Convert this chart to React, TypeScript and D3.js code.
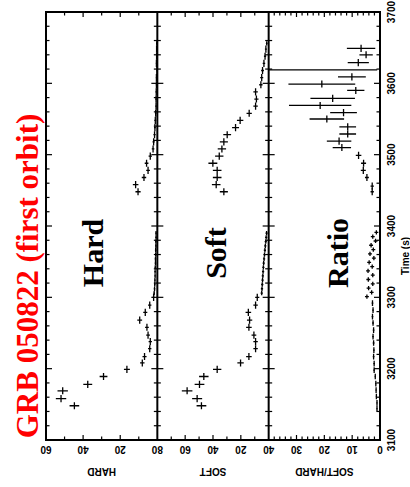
import React, { useRef, useEffect } from 'react'
import * as d3 from 'd3'

// each point: [time (s), half bin width (s), value, error]
const hardPoints = [
  [3148, 5, 44.7, 2.6], [3158, 5, 51.9, 2.8], [3169, 5, 51.0, 2.8], [3178, 5, 37.5, 2.4],
  [3189, 5, 29.0, 2.1], [3199, 5, 16.4, 1.6], [3208, 5, 8.1, 1.2], [3217, 5, 6.9, 1.1],
  [3228, 5, 4.1, 0.9], [3238, 5, 3.8, 0.9], [3247, 5, 5.0, 1.0], [3258, 5, 5.6, 1.0],
  [3268, 5, 9.5, 1.3], [3279, 5, 6.5, 1.1], [3289, 5, 4.1, 0.9], [3300, 5, 2.0, 0.6],
  [3306, 3, 1.7, 0.4], [3312, 3, 1.5, 0.4], [3318, 3, 1.4, 0.4], [3324, 3, 1.3, 0.4],
  [3330, 3, 1.2, 0.4], [3336, 3, 1.2, 0.4], [3342, 3, 1.1, 0.4], [3348, 3, 1.0, 0.4],
  [3354, 3, 1.0, 0.4], [3360, 3, 0.9, 0.4], [3366, 3, 0.9, 0.4], [3372, 3, 0.8, 0.4],
  [3378, 3, 0.8, 0.4], [3384, 3, 0.7, 0.4], [3390, 3, 0.7, 0.4],
  [3448, 5, 10.4, 1.4], [3458, 5, 11.7, 1.5], [3468, 5, 7.2, 1.2], [3478, 5, 5.0, 1.0],
  [3488, 5, 5.8, 1.0], [3498, 5, 3.8, 0.9], [3508, 5, 2.3, 0.7], [3518, 5, 2.0, 0.6],
  [3528, 5, 1.5, 0.6], [3538, 5, 1.3, 0.5], [3548, 5, 1.1, 0.5], [3558, 5, 0.9, 0.4],
  [3568, 5, 0.7, 0.4], [3578, 5, 0.7, 0.4], [3588, 5, 0.6, 0.4], [3598, 5, 0.5, 0.3],
  [3608, 5, 0.5, 0.3], [3618, 5, 0.2, 0.3], [3628, 5, 0.5, 0.3], [3638, 5, 0.4, 0.3],
  [3648, 5, 0.4, 0.3], [3656, 3, 0.3, 0.3],
]

const softPoints = [
  [3148, 5, 48.3, 3.5], [3158, 5, 51.4, 3.6], [3169, 5, 58.6, 3.8], [3178, 5, 49.7, 3.5],
  [3189, 5, 46.6, 3.4], [3199, 5, 37.0, 3.0], [3208, 5, 20.2, 2.3], [3217, 5, 14.2, 2.0],
  [3228, 5, 9.4, 1.6], [3238, 5, 9.4, 1.6], [3247, 5, 10.6, 1.7], [3258, 5, 14.2, 2.0],
  [3268, 5, 13.7, 1.9], [3279, 5, 14.6, 2.0], [3289, 5, 9.4, 1.6], [3300, 5, 8.2, 1.5],
  [3306, 3, 5.0, 0.8], [3312, 3, 4.8, 0.8], [3318, 3, 4.6, 0.8], [3324, 3, 4.4, 0.8],
  [3330, 3, 4.2, 0.8], [3336, 3, 4.0, 0.8], [3342, 3, 3.8, 0.8], [3348, 3, 3.6, 0.8],
  [3354, 3, 3.3, 0.8], [3360, 3, 3.0, 0.8], [3366, 3, 2.7, 0.8], [3372, 3, 2.4, 0.8],
  [3378, 3, 2.1, 0.8], [3384, 3, 1.8, 0.8], [3390, 3, 1.5, 0.8],
  [3448, 5, 32.2, 2.9], [3458, 5, 37.7, 3.1], [3468, 5, 37.0, 3.1], [3478, 5, 37.0, 3.1],
  [3488, 5, 40.1, 3.2], [3498, 5, 35.5, 3.0], [3508, 5, 33.6, 3.0], [3518, 5, 32.2, 2.9],
  [3528, 5, 29.8, 2.8], [3538, 5, 23.8, 2.5], [3548, 5, 20.5, 2.3], [3558, 5, 14.0, 1.9],
  [3568, 5, 9.4, 1.6], [3578, 5, 8.8, 1.5], [3588, 5, 9.4, 1.6], [3598, 5, 5.6, 1.2],
  [3608, 5, 5.0, 1.1], [3618, 5, 4.4, 1.0], [3628, 5, 3.4, 0.9], [3638, 5, 2.6, 0.8],
  [3648, 5, 2.0, 0.7], [3656, 3, 1.4, 0.6],
]

const ratioPoints = [
  [3144, 4, 1.08, 0.2], [3152, 4, 1.08, 0.2], [3161, 4, 1.3, 0.2], [3170, 4, 1.4, 0.2],
  [3179, 4, 1.5, 0.2], [3189, 4, 1.7, 0.2], [3198, 4, 2.1, 0.3], [3207, 4, 2.1, 0.3],
  [3217, 4, 2.3, 0.3], [3226, 4, 2.2, 0.3], [3236, 4, 2.3, 0.3], [3245, 4, 2.5, 0.3],
  [3254, 4, 2.3, 0.3], [3264, 4, 2.5, 0.3], [3273, 4, 2.7, 0.3], [3282, 4, 2.5, 0.3],
  [3292, 4, 2.7, 0.3],
  [3301, 3, 4.7, 0.7], [3307, 3, 3.0, 0.7], [3313, 3, 4.1, 0.7], [3319, 3, 2.6, 0.7],
  [3325, 3, 4.2, 0.7], [3331, 3, 2.6, 0.7], [3337, 3, 4.3, 0.7], [3343, 3, 2.8, 0.7],
  [3349, 3, 3.9, 0.7], [3355, 3, 2.2, 0.7], [3361, 3, 3.6, 0.7], [3367, 3, 2.4, 0.7],
  [3373, 3, 3.2, 0.7], [3379, 3, 1.6, 0.7], [3385, 3, 2.6, 0.7], [3391, 3, 1.3, 0.7],
  [3448, 5, 2.8, 0.6], [3456, 5, 2.8, 0.6], [3468, 5, 4.7, 0.7], [3478, 5, 6.0, 0.9],
  [3488, 5, 5.9, 0.9], [3499, 5, 7.7, 1.0], [3510, 5, 13.7, 3.3], [3519, 5, 14.7, 4.4],
  [3529, 5, 11.6, 3.0], [3539, 5, 11.6, 3.0], [3550, 5, 19.1, 6.2], [3559, 5, 13.1, 4.8],
  [3569, 5, 21.5, 11.2], [3579, 5, 17.0, 8.0], [3590, 5, 8.7, 3.1], [3599, 5, 20.9, 12.0],
  [3609, 5, 10.1, 5.0], [3619, 5, 45.0, 44.0], [3629, 5, 7.8, 3.8], [3640, 5, 5.0, 2.4],
  [3649, 5, 6.8, 5.1],
]

const timeLabels = [3100, 3200, 3300, 3400, 3500, 3600, 3700]
const hardLabels = [20, 40, 60]
const softLabels = [20, 40, 60, 80]
const ratioLabels = [0, 10, 20, 30, 40]
const panelNames = ['Hard', 'Soft', 'Ratio']
const axisNames = ['HARD', 'SOFT', 'SOFT/HARD']

export default function App() {
  const chart = useRef(null)

  useEffect(() => {
    const svg = d3.select(chart.current)
    svg.selectAll('*').remove()

    const left = 46, right = 380, top = 12, bottom = 440
    const pw = (right - left) / 3
    const y = d3.scaleLinear().domain([3100, 3700]).range([bottom, top])
    const sans = 'Liberation Sans, Arial, sans-serif'
    const serif = 'Liberation Serif, Times New Roman, serif'

    const panels = [
      { data: hardPoints, max: 60, step: 10, labels: hardLabels, tx: 103 },
      { data: softPoints, max: 80, step: 10, labels: softLabels, tx: 226 },
      { data: ratioPoints, max: 40, step: 2, labels: ratioLabels, tx: 348 },
    ]

    svg.append('rect').attr('width', 410).attr('height', 487).attr('fill', '#fff')

    const minorT = d3.range(3100, 3701, 20)

    panels.forEach((p, i) => {
      const x0 = left + i * pw, x1 = x0 + pw
      const x = d3.scaleLinear().domain([0, p.max]).range([x1, x0])

      svg.append('clipPath').attr('id', 'clip' + i)
        .append('rect').attr('x', x0).attr('y', top).attr('width', pw).attr('height', bottom - top)

      const g = svg.append('g').attr('clip-path', `url(#clip${i})`)
        .attr('stroke', '#000').attr('stroke-width', 1.3)

      g.selectAll('line.v').data(p.data).join('line')
        .attr('x1', d => x(d[2])).attr('x2', d => x(d[2]))
        .attr('y1', d => y(d[0] - d[1])).attr('y2', d => y(d[0] + d[1]))
      g.selectAll('line.h').data(p.data).join('line').attr('class', 'h')
        .attr('x1', d => x(d[2] - d[3])).attr('x2', d => x(d[2] + d[3]))
        .attr('y1', d => y(d[0])).attr('y2', d => y(d[0]))

      // time ticks on both sides of the panel
      const ticks = svg.append('g').attr('stroke', '#000').attr('stroke-width', 1.2)
      minorT.forEach(t => {
        const len = t % 100 === 0 ? 6 : 3.5
        ticks.append('line').attr('x1', x0).attr('x2', x0 + len).attr('y1', y(t)).attr('y2', y(t))
        ticks.append('line').attr('x1', x1 - len).attr('x2', x1).attr('y1', y(t)).attr('y2', y(t))
      })

      // value ticks top and bottom
      d3.range(p.step, p.max, p.step).forEach(v => {
        const len = p.labels.includes(v) ? 5 : 3.5
        ticks.append('line').attr('x1', x(v)).attr('x2', x(v)).attr('y1', top).attr('y2', top + len)
        ticks.append('line').attr('x1', x(v)).attr('x2', x(v)).attr('y1', bottom - len).attr('y2', bottom)
      })

      svg.append('g').selectAll('text').data(p.labels).join('text')
        .attr('transform', v => `translate(${x(v)},446) rotate(180)`)
        .attr('text-anchor', 'middle')
        .style('font-family', sans).style('font-size', '10px').style('font-weight', 'bold')
        .text(v => v)

      svg.append('text')
        .attr('transform', `translate(${(x0 + x1) / 2},468) rotate(180)`)
        .attr('text-anchor', 'middle')
        .style('font-family', sans).style('font-size', '10px').style('font-weight', 'bold')
        .text(axisNames[i])

      svg.append('text')
        .attr('transform', `translate(${p.tx},253) rotate(-90)`)
        .attr('text-anchor', 'middle')
        .style('font-family', serif).style('font-size', '30px').style('font-weight', 'bold')
        .text(panelNames[i])
    })

    // frame and dividers
    svg.append('rect').attr('x', left).attr('y', top).attr('width', right - left).attr('height', bottom - top)
      .attr('fill', 'none').attr('stroke', '#000').attr('stroke-width', 2)
    ;[1, 2].forEach(i => {
      svg.append('line').attr('x1', left + i * pw).attr('x2', left + i * pw).attr('y1', top).attr('y2', bottom)
        .attr('stroke', '#000').attr('stroke-width', 2)
    })

    svg.append('g').selectAll('text').data(timeLabels).join('text')
      .attr('transform', t => `translate(395,${y(t)}) rotate(-90)`)
      .attr('text-anchor', 'middle')
      .style('font-family', sans).style('font-size', '10px').style('font-weight', 'bold')
      .text(t => t)

    svg.append('text')
      .attr('transform', 'translate(409,256) rotate(-90)')
      .attr('text-anchor', 'middle')
      .style('font-family', sans).style('font-size', '10px').style('font-weight', 'bold')
      .text('Time (s)')

    svg.append('text')
      .attr('transform', 'translate(38,276) rotate(-90)')
      .attr('text-anchor', 'middle')
      .attr('fill', '#f00')
      .style('font-family', serif).style('font-size', '31px').style('font-weight', 'bold')
      .text('GRB 050822 (first orbit)')
  }, [])

  return (
    <svg ref={chart} width={410} height={487} style={{ position: 'absolute', left: 0, top: 0 }} />
  )
}
